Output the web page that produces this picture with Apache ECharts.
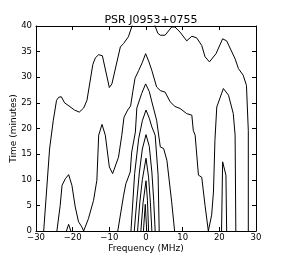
<!DOCTYPE html>
<html>
<head>
<meta charset="utf-8">
<script src="https://cdn.jsdelivr.net/npm/echarts@6/dist/echarts.min.js"></script>
<style>html,body{margin:0;padding:0;background:#fff}#c{width:285px;height:257px}</style>
</head>
<body>
<div id="c"></div>
<script>
var titleText = "PSR J0953+0755";
var xName = "Frequency (MHz)";
var yName = "Time (minutes)";
var xTicks = [-30, -20, -10, 0, 10, 20, 30];
var yTicks = [0, 5, 10, 15, 20, 25, 30, 35, 40];

// contour lines as [frequency MHz, time min]
var contourA = [[-27.9,0],[-26.3,16],[-25.3,21.5],[-24.4,25.5],[-23.8,26.1],[-23.1,26.2],[-22.2,25.0],[-21.0,24.4],[-19.5,23.6],[-18.2,23.2],[-17.0,24.0],[-16.1,25.5],[-14.5,32.5],[-13.8,33.8],[-12.9,34.4],[-11.9,34.2],[-10.0,28.0],[-9.3,28.7],[-7.0,35.9],[-6.1,36.6],[-4.8,37.9],[-3.9,39.8],[-3.0,41.5],[1.5,41.5],[2.5,40.0],[3.2,38.6],[3.9,38.2],[5.2,38.2],[7.0,39.8],[7.9,39.8],[9.3,38.8],[11.1,37.1],[12.5,38.0],[13.8,37.7],[15.2,36.2],[16.1,34.0],[17.3,33.0],[19.1,34.6],[20.9,37.5],[22.0,37.1],[24.3,33.6],[25.2,31.7],[26.5,30.4],[27.4,28.4],[27.9,19.6],[27.9,0]];
var contourB = [[-24.3,0],[-23.4,5.0],[-22.9,8.9],[-22.0,10.2],[-21.1,11.0],[-20.2,8.9],[-19.3,4.7],[-18.4,1.8],[-17.5,0.8],[-17.0,0],[-15.7,2.4],[-14.3,6.0],[-13.4,9.9],[-12.9,18.7],[-12.0,20.8],[-11.1,18.7],[-10.0,12.5],[-9.1,11.2],[-7.5,14.4],[-6.6,18.7],[-6.0,22.2],[-5.0,23.6],[-4.2,24.4],[-3.6,27.2],[-3.0,29.8],[-2.0,31.3],[-1.0,32.9],[-0.1,34.6],[0.8,33.0],[1.6,31.3],[2.9,28.1],[3.9,27.4],[5.2,27.1],[6.6,25.2],[7.9,24.3],[9.3,23.9],[11.1,22.9],[12.5,22.6],[12.9,19.6],[13.4,18.7],[14.3,10.9],[15.2,10.5],[16.1,5.0],[17.0,0],[17.9,3.1],[18.4,7.6],[18.8,17.7],[19.3,24.2],[21.1,27.8],[22.5,26.5],[23.8,22.9],[24.3,18.7],[24.5,0]];
var contourC = [[-7.7,0],[-6.1,7.0],[-5.5,9.2],[-4.3,11.5],[-3.9,15.4],[-2.9,19.3],[-2.5,24.0],[-1.2,26.8],[-0.1,28.7],[0.9,27.2],[1.6,25.2],[2.9,21.6],[3.9,16.4],[4.8,16.1],[5.7,13.8],[7.0,5.7],[7.8,0]];
var contourD = [[-4.1,0],[-3.1,11.2],[-2.0,18.0],[-1.0,21.5],[0,23.6],[0.9,22.0],[1.6,20.3],[2.5,18.7],[3.3,10.9],[3.6,0]];
var contourE = [[-3.2,0],[-2.5,6.0],[-1.8,11.5],[-1.0,16.0],[0,18.8],[0.9,16.5],[1.6,11.5],[2.1,6.0],[2.5,0]];
var contourF = [[-2.3,0],[-1.7,5.5],[-1.0,10.0],[0,14.2],[0.7,10.5],[1.2,5.5],[1.6,0]];
var contourG = [[-1.4,0],[-0.8,5.5],[0,9.8],[0.4,6.0],[0.7,0]];
var contourH = [[-0.7,0],[-0.2,5.2],[0.2,0]];
var lobeLeft = [[-21.7,0],[-21.1,1.3],[-20.5,0]];
var lobeRight = [[20.6,0],[20.9,13.5],[21.2,13.2],[21.8,10.9],[22.0,0]];

var contours = [contourA, contourB, contourC, contourD, contourE, contourF, contourG, contourH, lobeLeft, lobeRight];

var font = "DejaVu Sans";
function minus(v){ return String(v).replace('-', '\u2212'); }
var axisBase = {
  type: 'value',
  axisLine: {show: true, onZero: false, lineStyle: {color: '#000', width: 1}},
  axisTick: {show: true, inside: true, length: 4, lineStyle: {color: '#000', width: 1}},
  splitLine: {show: false}
};
var chart = echarts.init(document.getElementById('c'), null, {renderer: 'canvas'});
chart.setOption({
  animation: false,
  backgroundColor: '#fff',
  title: {text: titleText, left: 146, top: 10, textAlign: 'center',
    textStyle: {fontFamily: font, fontSize: 11, fontWeight: 'normal', color: '#000'}},
  grid: {left: 36, right: 29, top: 26, bottom: 26, containLabel: false, outerBoundsMode: 'none'},
  xAxis: [
    Object.assign({}, axisBase, {min: xTicks[0], max: xTicks[xTicks.length-1], interval: 10, position: 'bottom',
      name: xName, nameLocation: 'middle', nameGap: 13, nameMoveOverlap: false,
      nameTextStyle: {fontFamily: font, fontSize: 9, color: '#000'},
      axisLabel: {fontFamily: font, fontSize: 8.5, color: '#000', margin: 2, formatter: minus}}),
    Object.assign({}, axisBase, {min: xTicks[0], max: xTicks[xTicks.length-1], interval: 10, position: 'top',
      axisLabel: {show: false}})
  ],
  yAxis: [
    Object.assign({}, axisBase, {min: yTicks[0], max: yTicks[yTicks.length-1], interval: 5, position: 'left',
      name: yName, nameLocation: 'middle', nameGap: 18, nameMoveOverlap: false,
      nameTextStyle: {fontFamily: font, fontSize: 9, color: '#000'},
      axisLabel: {fontFamily: font, fontSize: 8.5, color: '#000', margin: 4}}),
    Object.assign({}, axisBase, {min: yTicks[0], max: yTicks[yTicks.length-1], interval: 5, position: 'right',
      axisLabel: {show: false}})
  ],
  series: contours.map(function(c){
    return {type: 'line', data: c, xAxisIndex: 0, yAxisIndex: 0, showSymbol: false, symbol: 'none',
      clip: true, smooth: false, lineStyle: {color: '#000', width: 1}, silent: true};
  })
});
</script>
</body>
</html>
